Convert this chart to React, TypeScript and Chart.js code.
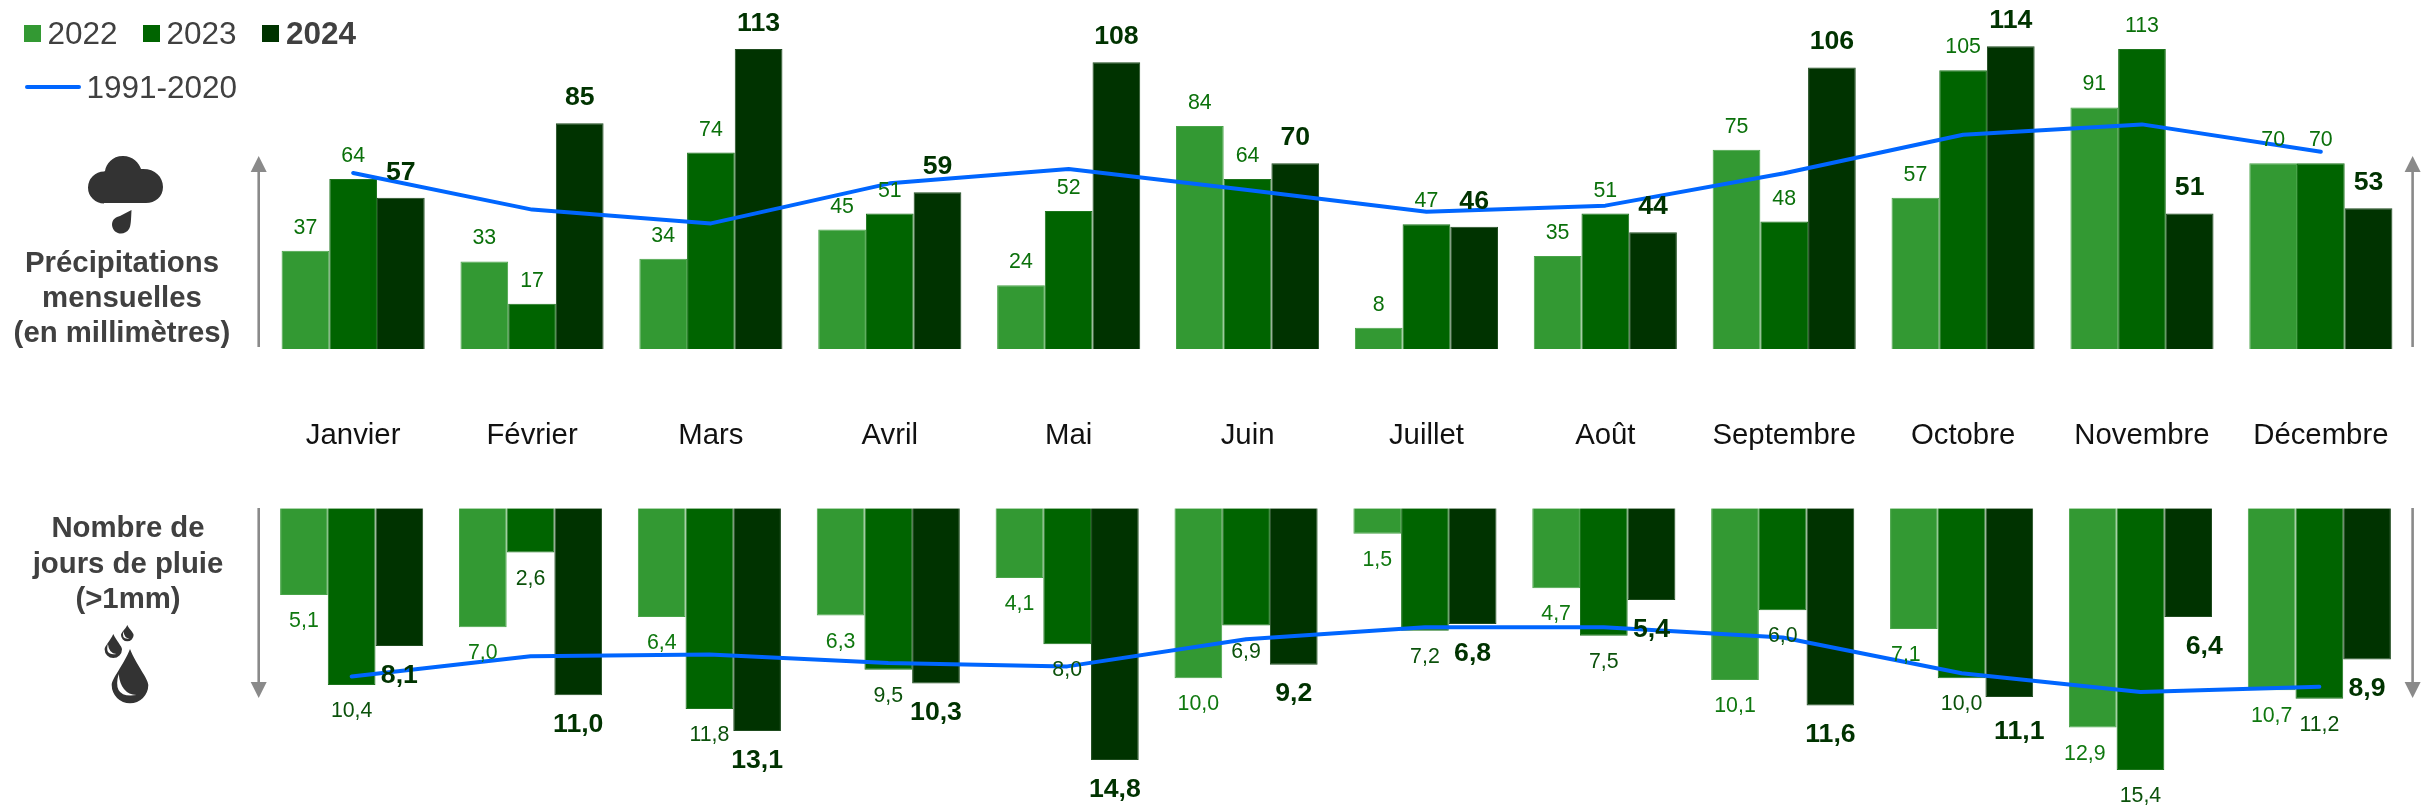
import React, { useEffect, useRef } from "react";
import { Chart, registerables } from "chart.js";

Chart.register(...registerables);

const months = ["Janvier", "Février", "Mars", "Avril", "Mai", "Juin", "Juillet", "Août", "Septembre", "Octobre", "Novembre", "Décembre"];

const rain2022 = [37, 33, 34, 45, 24, 84, 8, 35, 75, 57, 91, 70];
const rain2023 = [64, 17, 74, 51, 52, 64, 47, 51, 48, 105, 113, 70];
const rain2024 = [57, 85, 113, 59, 108, 70, 46, 44, 106, 114, 51, 53];
const rainNormal = [66.3, 52.5, 47.3, 62.4, 67.8, 59.9, 51.7, 54, 66.2, 80.7, 84.6, 74.3];

const days2022 = [5.1, 7.0, 6.4, 6.3, 4.1, 10.0, 1.5, 4.7, 10.1, 7.1, 12.9, 10.7];
const days2023 = [10.4, 2.6, 11.8, 9.5, 8.0, 6.9, 7.2, 7.5, 6.0, 10.0, 15.4, 11.2];
const days2024 = [8.1, 11.0, 13.1, 10.3, 14.8, 9.2, 6.8, 5.4, 11.6, 11.1, 6.4, 8.9];
const daysNormal = [9.9, 8.7, 8.6, 9.1, 9.3, 7.7, 7.0, 7.0, 7.6, 9.7, 10.8, 10.5];

const seriesNames = ["2022", "2023", "2024"];
const normalName = "1991-2020";
const rainTitle = ["Précipitations", "mensuelles", "(en millimètres)"];
const daysTitle = ["Nombre de", "jours de pluie", "(>1mm)"];

const W = 2423;
const TOP_H = 470;
const BOTTOM_H = 808 - TOP_H;
const FAMILY = '"Liberation Sans", Arial, sans-serif';
const COLORS = ["#339933", "#006400", "#003300"];
const EDGES = ["#48a448", "#1c741c", "#1f4c1f"];
const LINE = "#0066ff";
const TEXT = "#404040";
const ICON = "#333333";

function arrow(ctx: CanvasRenderingContext2D, x: number, tail: number, tip: number) {
  const dir = tip < tail ? 1 : -1;
  ctx.strokeStyle = "#8a8a8a";
  ctx.fillStyle = "#8a8a8a";
  ctx.lineWidth = 2.6;
  ctx.beginPath();
  ctx.moveTo(x, tail);
  ctx.lineTo(x, tip + dir * 14);
  ctx.stroke();
  ctx.beginPath();
  ctx.moveTo(x, tip);
  ctx.lineTo(x - 8, tip + dir * 16);
  ctx.lineTo(x + 8, tip + dir * 16);
  ctx.closePath();
  ctx.fill();
}

function titleLines(ctx: CanvasRenderingContext2D, lines: string[], x: number, ys: number[]) {
  ctx.fillStyle = TEXT;
  ctx.font = `bold 29.33px ${FAMILY}`;
  ctx.textAlign = "center";
  ctx.textBaseline = "middle";
  lines.forEach((t, i) => ctx.fillText(t, x, ys[i]));
}

function cloud(ctx: CanvasRenderingContext2D) {
  ctx.fillStyle = ICON;
  ctx.beginPath();
  ctx.arc(104, 187.5, 16, Math.PI * 0.5, Math.PI * 1.5);
  ctx.lineTo(105, 171);
  ctx.bezierCurveTo(106, 164, 112, 156, 123, 156);
  ctx.bezierCurveTo(133, 156, 139, 163, 141, 169);
  ctx.bezierCurveTo(154, 168, 163, 176, 163, 187);
  ctx.bezierCurveTo(163, 197, 155, 203, 146, 203);
  ctx.lineTo(104, 203);
  ctx.closePath();
  ctx.fill();
  ctx.beginPath();
  ctx.moveTo(131.5, 210);
  ctx.bezierCurveTo(131, 220, 131, 226, 129, 229);
  ctx.bezierCurveTo(125, 236, 113, 235, 112, 225);
  ctx.bezierCurveTo(112, 219, 116, 217, 120, 216);
  ctx.closePath();
  ctx.fill();
}

function drop(ctx: CanvasRenderingContext2D, cx: number, cy: number, r: number, tipY: number) {
  ctx.fillStyle = ICON;
  ctx.beginPath();
  ctx.moveTo(cx, tipY);
  ctx.bezierCurveTo(cx + r * 0.35, tipY + (cy - tipY) * 0.45, cx + r, cy - r * 0.35, cx + r, cy);
  ctx.arc(cx, cy, r, 0, Math.PI);
  ctx.bezierCurveTo(cx - r, cy - r * 0.35, cx - r * 0.35, tipY + (cy - tipY) * 0.45, cx, tipY);
  ctx.closePath();
  ctx.fill();
  ctx.fillStyle = "#ffffff";
  ctx.beginPath();
  ctx.moveTo(cx - r * 0.62, cy - r * 0.6);
  ctx.quadraticCurveTo(cx - r * 1.0, cy + r * 0.75, cx + r * 0.35, cy + r * 0.55);
  ctx.quadraticCurveTo(cx - r * 0.5, cy + r * 0.5, cx - r * 0.62, cy - r * 0.6);
  ctx.closePath();
  ctx.fill();
}

const barLabels = {
  id: "barLabels",
  afterDatasetsDraw(chart: any, _args: any, opts: any) {
    const ctx: CanvasRenderingContext2D = chart.ctx;
    ctx.save();
    ctx.textAlign = "center";
    ctx.textBaseline = "middle";
    opts.series.forEach((s: any, di: number) => {
      const meta = chart.getDatasetMeta(di);
      ctx.font = `${s.bold ? "bold " : ""}${s.size}px ${FAMILY}`;
      ctx.fillStyle = s.color;
      meta.data.forEach((bar: any, i: number) => {
        const v = chart.data.datasets[di].data[i];
        const text = opts.format(v);
        const nudge = (s.nudges && s.nudges[i]) || [0, 0];
        ctx.fillText(text, bar.x + nudge[0], bar.y + s.gap + nudge[1]);
      });
    });
    ctx.restore();
  },
};

const topDecor = {
  id: "topDecor",
  afterDraw(chart: any) {
    const ctx: CanvasRenderingContext2D = chart.ctx;
    ctx.save();
    const ds = chart.data.datasets;
    const boxes = [24, 143, 262];
    const labels = [47.5, 166.5, 286];
    ctx.textAlign = "left";
    ctx.textBaseline = "middle";
    for (let i = 0; i < 3; i++) {
      ctx.fillStyle = ds[i].backgroundColor;
      ctx.fillRect(boxes[i], 25, 17, 17);
      ctx.fillStyle = TEXT;
      ctx.font = `${i === 2 ? "bold " : ""}31.5px ${FAMILY}`;
      ctx.fillText(ds[i].label, labels[i], 35);
    }
    ctx.strokeStyle = ds[3].borderColor;
    ctx.lineWidth = 4;
    ctx.lineCap = "round";
    ctx.beginPath();
    ctx.moveTo(27, 87);
    ctx.lineTo(79, 87);
    ctx.stroke();
    ctx.lineCap = "butt";
    ctx.fillStyle = TEXT;
    ctx.font = `31.5px ${FAMILY}`;
    ctx.fillText(ds[3].label, 86.5, 89.5);

    cloud(ctx);
    titleLines(ctx, rainTitle, 122, [264, 299, 334]);
    arrow(ctx, 258.7, 347, 156);
    arrow(ctx, 2412.6, 347, 156);
    ctx.restore();
  },
};

const bottomDecor = {
  id: "bottomDecor",
  afterDraw(chart: any) {
    const ctx: CanvasRenderingContext2D = chart.ctx;
    const o = -TOP_H;
    ctx.save();
    titleLines(ctx, daysTitle, 128, [529 + o, 565 + o, 600 + o]);
    drop(ctx, 130, 685 + o, 18.3, 649 + o);
    drop(ctx, 113.3, 649.3 + o, 8.7, 634 + o);
    drop(ctx, 127.3, 635 + o, 6.3, 625 + o);
    ctx.translate(0, o);
    arrow(ctx, 258.7, 508, 698);
    arrow(ctx, 2412.6, 508, 698);
    ctx.restore();
  },
};

function barDataset(i: number, data: number[]) {
  return {
    type: "bar" as const,
    label: seriesNames[i],
    data,
    backgroundColor: COLORS[i],
    borderColor: EDGES[i],
    borderWidth: 1,
    categoryPercentage: 0.8,
    barPercentage: 1,
    order: 1,
  };
}

function lineDataset(data: number[]) {
  return {
    type: "line" as const,
    label: normalName,
    data,
    borderColor: LINE,
    borderWidth: 4,
    pointRadius: 0,
    tension: 0,
    fill: false,
    order: 0,
    borderCapStyle: "round" as const,
    borderJoinStyle: "round" as const,
  };
}

const LABEL_SIZE = 21.33;
const BOLD_SIZE = 26.67;

export default function App() {
  const topRef = useRef<HTMLCanvasElement>(null);
  const bottomRef = useRef<HTMLCanvasElement>(null);

  useEffect(() => {
    const top = new Chart(topRef.current!, {
      type: "bar",
      data: {
        labels: months,
        datasets: [barDataset(0, rain2022), barDataset(1, rain2023), barDataset(2, rain2024), lineDataset(rainNormal)],
      },
      options: {
        animation: false,
        responsive: false,
        devicePixelRatio: 1,
        layout: { padding: { left: 263.7, right: 12.7, top: 0, bottom: 0 } },
        scales: {
          x: {
            grid: { display: false },
            border: { display: false },
            afterFit: (s: any) => {
              s.height = TOP_H - 349;
              s.paddingLeft = 0;
              s.paddingRight = 0;
              s.paddingTop = 0;
              s.paddingBottom = 0;
            },
            ticks: {
              autoSkip: false,
              maxRotation: 0,
              padding: 61.5,
              color: "#111111",
              font: { family: FAMILY, size: 29.33 },
            },
          },
          y: { display: false, min: 0, max: 131.45 },
        },
        plugins: {
          legend: { display: false },
          tooltip: { enabled: false },
          barLabels: {
            format: (v: number) => String(v),
            series: [
              { size: LABEL_SIZE, color: "#0a700a", gap: -22.8 },
              { size: LABEL_SIZE, color: "#0a700a", gap: -22.8 },
              { size: BOLD_SIZE, bold: true, color: "#003300", gap: -25.5 },
            ],
          },
        },
      } as any,
      plugins: [barLabels, topDecor],
    });

    const bottom = new Chart(bottomRef.current!, {
      type: "bar",
      data: {
        labels: months,
        datasets: [barDataset(0, days2022), barDataset(1, days2023), barDataset(2, days2024), lineDataset(daysNormal)],
      },
      options: {
        animation: false,
        responsive: false,
        devicePixelRatio: 1,
        layout: { padding: { left: 262.2, right: 14.2, top: 38.3, bottom: 0 } },
        scales: {
          x: { display: false },
          y: { display: false, reverse: true, min: 0, max: 17.63 },
        },
        plugins: {
          legend: { display: false },
          tooltip: { enabled: false },
          barLabels: {
            format: (v: number) => v.toFixed(1).replace(".", ","),
            series: [
              { size: LABEL_SIZE, color: "#0f780f", gap: 26.3, nudges: { 9: [-8, 0], 10: [-8, 0] } },
              { size: LABEL_SIZE, color: "#0b520b", gap: 26.3 },
              { size: BOLD_SIZE, bold: true, color: "#003300", gap: 29.4, nudges: { 9: [10, 5.5], 10: [16, 0] } },
            ],
          },
        },
      } as any,
      plugins: [barLabels, bottomDecor],
    });

    return () => {
      top.destroy();
      bottom.destroy();
    };
  }, []);

  return (
    <div style={{ position: "absolute", left: 0, top: 0, width: W, height: 808, background: "#fff" }}>
      <canvas ref={topRef} width={W} height={TOP_H} style={{ position: "absolute", left: 0, top: 0, width: W, height: TOP_H }} />
      <canvas ref={bottomRef} width={W} height={BOTTOM_H} style={{ position: "absolute", left: 0, top: TOP_H, width: W, height: BOTTOM_H }} />
    </div>
  );
}
